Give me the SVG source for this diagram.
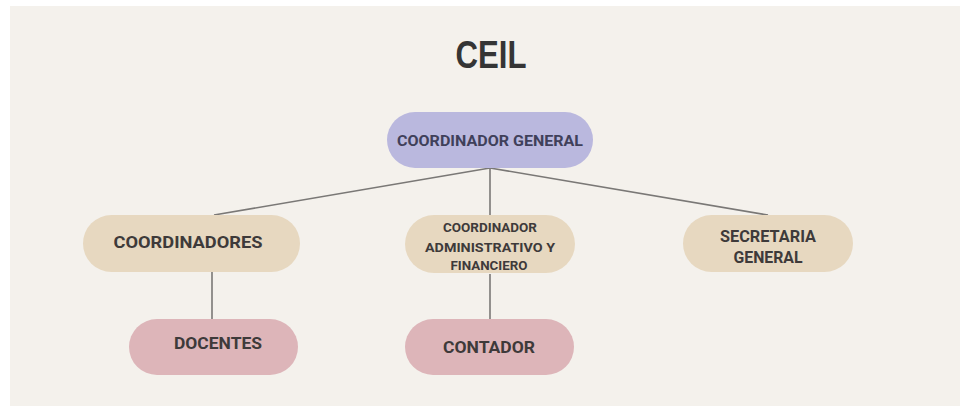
<svg xmlns="http://www.w3.org/2000/svg" width="960" height="406" viewBox="0 0 960 406">
<style>
.t{font-family:Roboto,"Liberation Sans",sans-serif;font-weight:bold;fill:#3e3a3a;text-anchor:middle}
.c{stroke:#7a7876;stroke-width:1.6;fill:none}
.p{fill:#bab8de}
.b{fill:#e7d8c0}
.r{fill:#ddb5b9}
</style>
<rect x="0" y="0" width="960" height="406" fill="#ffffff"/>
<rect x="10" y="6" width="950" height="400" fill="#f4f1ec"/>
<text x="491" y="68" style="font-family:'Liberation Sans',Arial,sans-serif;font-weight:bold;font-size:39px;fill:#353535;text-anchor:middle" textLength="71" lengthAdjust="spacingAndGlyphs">CEIL</text>
<g id="connectors">
<line class="c" x1="490" y1="168" x2="214" y2="215"/>
<line class="c" x1="490" y1="168" x2="490" y2="215"/>
<line class="c" x1="490" y1="168" x2="768" y2="215"/>
<line class="c" x1="212" y1="272" x2="212" y2="319"/>
<line class="c" x1="490" y1="274" x2="490" y2="319"/>
</g>
<g id="coordinador-general">
<rect class="p" x="387" y="112" width="206" height="56" rx="28"/>
<text class="t" x="490" y="146" style="font-size:15px;fill:#40405a" textLength="186" lengthAdjust="spacingAndGlyphs">COORDINADOR GENERAL</text>
</g>
<g id="coordinadores">
<rect class="b" x="83" y="215" width="217" height="57" rx="28.5"/>
<text class="t" x="188" y="248" style="font-size:17px" textLength="149" lengthAdjust="spacingAndGlyphs">COORDINADORES</text>
</g>
<g id="coordinador-administrativo">
<rect class="b" x="405" y="215" width="170" height="58" rx="29"/>
<text class="t" x="490" y="232" style="font-size:13.5px" textLength="94" lengthAdjust="spacingAndGlyphs">COORDINADOR</text>
<text class="t" x="490" y="252" style="font-size:13.5px" textLength="130" lengthAdjust="spacingAndGlyphs">ADMINISTRATIVO  Y</text>
<text class="t" x="489" y="270" style="font-size:13.5px" textLength="77" lengthAdjust="spacingAndGlyphs">FINANCIERO</text>
</g>
<g id="secretaria-general">
<rect class="b" x="683" y="215" width="170" height="57" rx="28.5"/>
<text class="t" x="768" y="242" style="font-size:16px" textLength="96" lengthAdjust="spacingAndGlyphs">SECRETARIA</text>
<text class="t" x="768" y="263" style="font-size:16px" textLength="69" lengthAdjust="spacingAndGlyphs">GENERAL</text>
</g>
<g id="docentes">
<rect class="r" x="129" y="319" width="169" height="56" rx="28"/>
<text class="t" x="218" y="349" style="font-size:17px" textLength="88" lengthAdjust="spacingAndGlyphs">DOCENTES</text>
</g>
<g id="contador">
<rect class="r" x="405" y="319" width="169" height="56" rx="28"/>
<text class="t" x="489" y="353" style="font-size:17px" textLength="92" lengthAdjust="spacingAndGlyphs">CONTADOR</text>
</g>
</svg>
